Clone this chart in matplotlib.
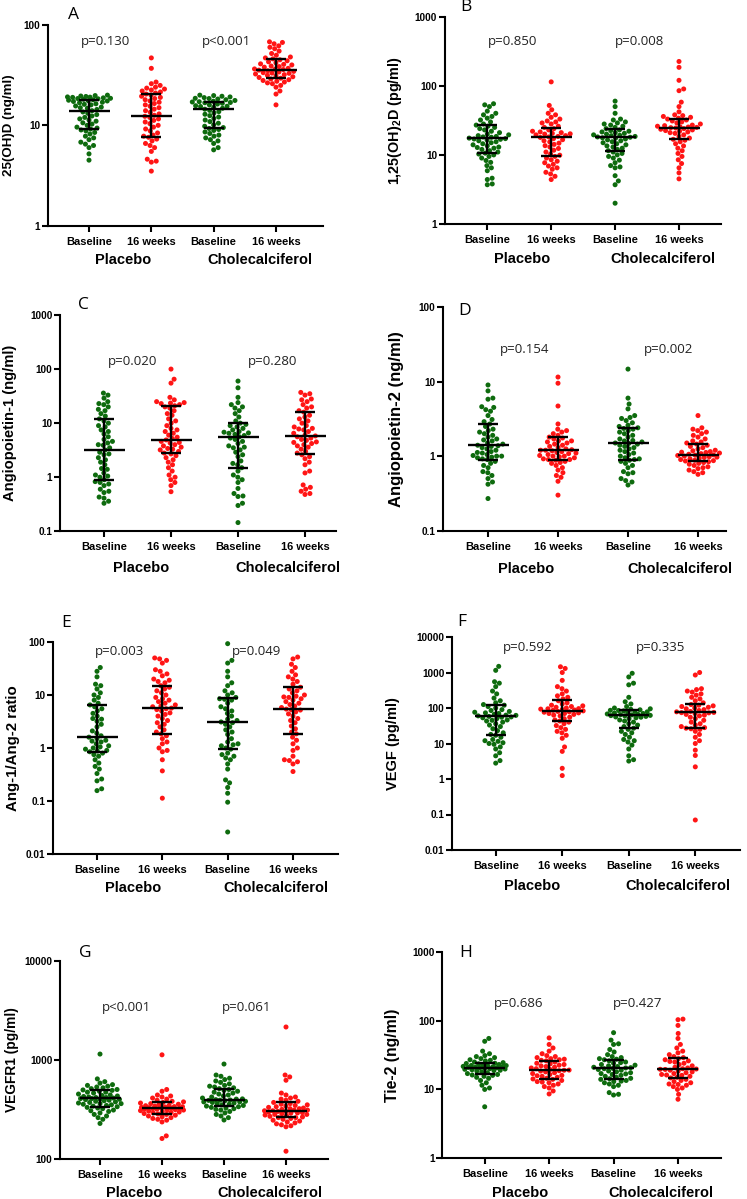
import numpy as np
import matplotlib
matplotlib.use('Agg')
import matplotlib.pyplot as plt
from matplotlib.ticker import FuncFormatter, NullLocator

plt.rcParams['font.family'] = ['Liberation Sans', 'DejaVu Sans']
plt.rcParams['mathtext.fontset'] = 'custom'
plt.rcParams['mathtext.bf'] = 'Liberation Sans:bold'
plt.rcParams['mathtext.rm'] = 'Liberation Sans:bold'

categories = ['Baseline', '16 weeks', 'Baseline', '16 weeks']
group_names = ['Placebo', 'Cholecalciferol']
GREEN = '#0e6b0e'
RED = '#ff1515'
colors = [GREEN, RED, GREEN, RED]

# ---------------- Panel A: 25(OH)D (ng/ml) ----------------
a_pla_base = [4.5, 5.2, 6.0, 6.3, 6.5, 6.8, 7.2, 7.5, 7.8, 8.2, 8.5, 8.8, 9.0, 9.2, 9.4, 9.6, 10.0, 10.3, 10.6,
              11.0, 11.3, 11.6, 12.0, 12.4, 12.8, 13.2, 13.6, 14.0, 14.4, 14.8, 15.2, 15.6, 16.0, 16.4, 16.8,
              17.0, 17.3, 17.6, 17.8, 18.0, 18.2, 18.4, 18.6, 18.8, 19.0, 19.2, 19.4, 19.6, 19.8, 20.0, 18.5,
              19.1, 17.5, 16.2, 15.0]
a_pla_16w = [3.5, 4.3, 4.4, 4.6, 5.5, 6.0, 6.3, 6.6, 7.0, 7.3, 7.6, 7.8, 8.0, 8.4, 8.8, 9.2, 9.6, 10.0, 10.4,
             10.8, 11.2, 11.6, 12.0, 12.3, 12.6, 13.0, 13.5, 14.0, 14.5, 15.0, 15.5, 16.0, 16.5, 17.0, 17.5,
             18.0, 18.5, 19.0, 19.5, 20.0, 20.5, 21.0, 21.5, 22.0, 22.5, 23.0, 23.5, 24.0, 25.0, 26.0, 27.0,
             37.0, 47.0]
a_cho_base = [5.7, 6.0, 6.6, 7.0, 7.2, 7.5, 7.8, 8.0, 8.3, 8.6, 8.9, 9.1, 9.3, 9.5, 9.8, 10.1, 10.5, 10.9, 11.3,
              11.7, 12.1, 12.5, 12.9, 13.3, 13.7, 14.1, 14.5, 14.8, 15.1, 15.4, 15.7, 16.0, 16.3, 16.6, 16.9,
              17.1, 17.4, 17.7, 18.0, 18.3, 18.6, 18.9, 19.2, 19.5, 19.8, 20.0, 17.2, 16.8, 18.5, 15.5]
a_cho_16w = [16, 20.5, 22, 24, 25, 26, 26.5, 27, 27.5, 28, 28.5, 29, 29.5, 30, 30.5, 31, 31.5, 32, 32.5, 33,
             33.5, 34, 34.5, 35, 35.5, 36, 36.5, 37, 38, 39, 40, 41, 42, 43, 44, 45, 46, 47, 48, 50, 52, 55,
             58, 60, 62, 65, 67, 68, 38.5, 33.2, 36.2, 40.5]
a_median = [14.0, 12.3, 14.5, 35.5]
a_q1 = [9.3, 7.7, 9.4, 29.4]
a_q3 = [17.9, 20.7, 16.9, 46.0]
a_pvalues = ['p=0.130', 'p<0.001']

# ---------------- Panel B: 1,25(OH)2D (pg/ml) ----------------
b_pla_base = [3.7, 3.8, 4.4, 4.6, 5.9, 6.5, 7.0, 7.8, 8.3, 9.0, 9.5, 10.0, 10.3, 10.6, 11.0, 11.5, 12.0, 12.5,
              13.0, 13.5, 14.0, 14.5, 15.0, 15.5, 16.0, 16.5, 17.0, 17.5, 18.0, 18.5, 19.0, 19.5, 20.0, 21.0,
              22.0, 23.0, 24.0, 25.0, 26.0, 27.0, 28.0, 30.0, 32.0, 34.0, 36.0, 38.0, 40.0, 43.0, 50.0, 53.0,
              55.0, 17.2, 18.2, 16.8, 12.8]
b_pla_16w = [4.4, 4.9, 5.3, 5.6, 6.2, 6.5, 6.9, 7.3, 7.7, 8.1, 8.5, 9.0, 9.5, 9.9, 10.3, 11.0, 11.7, 12.4, 13.0,
             13.6, 14.2, 14.8, 15.4, 16.0, 16.6, 17.2, 17.9, 18.5, 19.0, 19.5, 20.0, 20.5, 21.0, 21.5, 22.0,
             23.0, 24.0, 25.0, 26.0, 28.0, 29.0, 30.0, 31.0, 33.0, 35.0, 38.0, 40.0, 45.0, 52.0, 114.0, 18.2,
             20.2]
b_cho_base = [2.0, 3.7, 4.2, 5.0, 6.5, 6.7, 7.0, 7.7, 8.4, 9.0, 9.5, 10.0, 10.5, 11.0, 11.5, 12.0, 12.5, 13.0,
              13.5, 14.0, 14.5, 15.0, 15.5, 16.0, 16.5, 17.0, 17.5, 18.0, 18.5, 19.0, 19.5, 20.0, 20.5, 21.0,
              21.5, 22.0, 22.5, 23.0, 24.0, 25.0, 26.0, 27.0, 28.0, 29.0, 30.0, 32.0, 33.0, 40.0, 50.0, 60.0,
              18.2, 19.2, 17.7]
b_cho_16w = [4.5, 5.5, 6.5, 7.5, 8.5, 9.5, 10.5, 11.5, 12.5, 13.5, 14.5, 15.5, 16.3, 16.8, 17.5, 18.5, 19.5,
             20.5, 21.0, 21.5, 22.0, 22.5, 23.0, 23.5, 24.0, 24.5, 25.0, 25.5, 26.0, 26.5, 27.0, 28.0, 29.0,
             30.0, 31.0, 32.0, 33.0, 34.0, 35.0, 36.0, 37.0, 38.0, 42.0, 50.0, 58.0, 85.0, 90.0, 120.0, 185.0,
             225.0, 24.8, 25.3]
b_median = [17.7, 17.9, 18.3, 24.8]
b_q1 = [10.5, 9.6, 11.5, 16.8]
b_q3 = [26.8, 24.3, 23.9, 33.0]
b_pvalues = ['p=0.850', 'p=0.008']

# ---------------- Panel C: Angiopoietin-1 (ng/ml) ----------------
c_pla_base = [0.33, 0.36, 0.41, 0.43, 0.52, 0.55, 0.7, 0.75, 0.8, 0.83, 0.9, 1.0, 1.05, 1.1, 1.2, 1.4, 1.45, 1.7,
              1.9, 2.1, 2.3, 2.6, 2.9, 3.2, 3.5, 3.9, 4.3, 4.6, 5.0, 5.6, 6.3, 7.0, 7.5, 8.5, 9.0, 10.0, 11.0,
              12.0, 13.5, 15.0, 17.0, 18.0, 20.0, 22.0, 23.0, 25.0, 29.0, 33.0, 36.0, 0.6, 2.7, 4.0]
c_pla_16w = [0.54, 0.7, 0.8, 0.9, 1.0, 1.1, 1.3, 1.5, 1.7, 1.9, 2.1, 2.3, 2.5, 2.7, 2.8, 3.0, 3.2, 3.4, 3.6,
             3.8, 4.0, 4.3, 4.6, 4.9, 5.2, 5.5, 6.0, 6.5, 7.0, 7.5, 8.0, 9.0, 10.0, 11.0, 12.0, 14.0, 15.0,
             17.0, 19.0, 20.0, 21.0, 22.0, 23.0, 24.0, 25.0, 27.0, 30.0, 55.0, 65.0, 100.0, 3.3, 4.4, 23.5]
c_cho_base = [0.145, 0.3, 0.33, 0.44, 0.45, 0.5, 0.62, 0.8, 0.9, 1.0, 1.1, 1.3, 1.5, 1.7, 1.8, 2.0, 2.4, 2.6,
              2.9, 3.2, 3.5, 3.8, 4.2, 4.6, 5.0, 5.3, 5.6, 5.9, 6.2, 6.5, 6.8, 7.0, 7.5, 8.0, 8.5, 9.0, 9.5,
              10.0, 11.0, 13.0, 15.0, 17.0, 19.0, 20.0, 22.0, 24.0, 30.0, 45.0, 60.0, 6.6, 3.6]
c_cho_16w = [0.48, 0.5, 0.55, 0.6, 0.65, 0.72, 1.2, 1.3, 1.7, 1.9, 2.2, 2.4, 2.6, 2.8, 3.0, 3.3, 3.6, 3.8, 4.0,
             4.2, 4.5, 4.8, 5.0, 5.3, 5.6, 5.8, 6.0, 6.5, 7.0, 7.5, 8.0, 8.5, 9.0, 10.0, 11.0, 12.0, 13.0,
             14.0, 16.0, 17.0, 19.0, 20.0, 22.0, 25.0, 27.0, 28.0, 33.0, 35.0, 37.0, 4.4, 7.8]
c_median = [3.19, 4.9, 5.6, 5.8]
c_q1 = [0.89, 2.77, 1.5, 2.65]
c_q3 = [11.8, 21.0, 9.9, 16.3]
c_pvalues = ['p=0.020', 'p=0.280']

# ---------------- Panel D: Angiopoietin-2 (ng/ml) ----------------
d_pla_base = [0.27, 0.42, 0.45, 0.5, 0.55, 0.6, 0.62, 0.7, 0.75, 0.8, 0.85, 0.9, 0.92, 0.95, 1.0, 1.02, 1.05,
              1.1, 1.15, 1.2, 1.25, 1.3, 1.35, 1.4, 1.45, 1.5, 1.6, 1.7, 1.8, 1.9, 2.0, 2.1, 2.2, 2.3, 2.5, 2.7,
              2.9, 3.1, 3.5, 4.0, 4.2, 4.5, 4.6, 5.8, 6.0, 7.5, 9.0, 1.12, 1.38, 1.65, 1.0, 0.97]
d_pla_16w = [0.30, 0.46, 0.52, 0.55, 0.6, 0.65, 0.7, 0.75, 0.8, 0.82, 0.85, 0.88, 0.9, 0.92, 0.95, 0.98, 1.0,
             1.02, 1.05, 1.08, 1.1, 1.12, 1.15, 1.18, 1.2, 1.22, 1.25, 1.3, 1.35, 1.4, 1.45, 1.5, 1.55, 1.6,
             1.7, 1.8, 1.9, 2.0, 2.1, 2.2, 2.3, 2.7, 4.7, 9.5, 11.5, 1.2, 1.0, 0.9, 1.6, 1.75]
d_cho_base = [0.41, 0.45, 0.47, 0.5, 0.58, 0.6, 0.62, 0.7, 0.75, 0.8, 0.85, 0.88, 0.9, 0.95, 1.0, 1.05, 1.1,
              1.15, 1.2, 1.25, 1.3, 1.35, 1.4, 1.45, 1.5, 1.55, 1.6, 1.7, 1.8, 1.9, 2.0, 2.1, 2.2, 2.3, 2.4,
              2.5, 2.6, 2.8, 3.0, 3.2, 3.3, 3.5, 4.3, 5.0, 6.0, 14.7, 1.48, 1.62, 2.35, 0.92]
d_cho_16w = [0.57, 0.6, 0.62, 0.65, 0.68, 0.7, 0.72, 0.75, 0.78, 0.8, 0.82, 0.84, 0.86, 0.88, 0.9, 0.92, 0.94,
             0.96, 0.98, 1.0, 1.02, 1.04, 1.06, 1.08, 1.1, 1.12, 1.15, 1.18, 1.2, 1.25, 1.3, 1.35, 1.4, 1.45,
             1.5, 1.55, 1.6, 1.7, 1.8, 1.9, 2.0, 2.1, 2.2, 2.3, 2.4, 3.5, 1.03, 0.97, 0.87, 1.13]
d_median = [1.39, 1.21, 1.49, 1.04]
d_q1 = [0.89, 0.89, 0.89, 0.85]
d_q3 = [2.68, 1.83, 2.42, 1.46]
d_pvalues = ['p=0.154', 'p=0.002']

# ---------------- Panel E: Ang-1/Ang-2 ratio ----------------
e_pla_base = [0.157, 0.17, 0.24, 0.26, 0.33, 0.4, 0.45, 0.52, 0.6, 0.7, 0.8, 0.85, 0.9, 0.95, 1.0, 1.1, 1.2,
              1.3, 1.4, 1.5, 1.6, 1.7, 1.9, 2.1, 2.5, 2.8, 3.2, 3.6, 4.0, 4.5, 5.0, 5.5, 6.0, 6.5, 7.0, 8.0, 9.0,
              10.0, 11.0, 13.0, 15.0, 16.0, 22.0, 28.0, 33.0, 1.35, 0.88, 1.05, 0.75, 3.5]
e_pla_16w = [0.113, 0.37, 0.6, 0.85, 0.9, 1.0, 1.2, 1.3, 1.5, 1.7, 1.85, 2.0, 2.2, 2.5, 2.8, 3.0, 3.3, 3.6, 4.0,
             4.3, 4.6, 5.0, 5.3, 5.66, 6.0, 6.5, 7.0, 7.5, 8.0, 8.5, 9.0, 10.0, 11.0, 12.0, 13.0, 14.0, 15.0,
             17.0, 18.0, 19.0, 20.0, 23.0, 25.0, 28.0, 30.0, 40.0, 45.0, 48.0, 50.0, 5.5, 6.2]
e_cho_base = [0.026, 0.095, 0.14, 0.18, 0.22, 0.25, 0.4, 0.5, 0.6, 0.65, 0.7, 0.8, 0.95, 1.0, 1.1, 1.2, 1.3,
              1.5, 1.8, 2.0, 2.2, 2.5, 2.8, 3.1, 3.3, 3.5, 4.0, 4.5, 5.0, 5.5, 6.0, 7.0, 8.0, 8.5, 9.0, 10.0,
              11.0, 12.0, 15.0, 17.0, 22.0, 28.0, 40.0, 45.0, 93.0, 3.0, 1.15, 0.75, 8.3]
e_cho_16w = [0.36, 0.5, 0.55, 0.58, 0.6, 0.7, 0.9, 1.0, 1.2, 1.4, 1.6, 1.85, 2.0, 2.3, 2.6, 3.0, 3.3, 3.6, 4.0,
             4.4, 4.8, 5.2, 5.42, 5.8, 6.2, 6.6, 7.0, 7.5, 8.0, 8.5, 9.0, 9.5, 10.0, 11.0, 12.0, 13.0, 14.0,
             16.0, 18.0, 20.0, 22.0, 24.0, 28.0, 33.0, 38.0, 48.0, 52.0, 5.3, 9.2]
e_median = [1.58, 5.66, 3.08, 5.42]
e_q1 = [0.83, 1.85, 0.95, 1.85]
e_q3 = [6.35, 15.0, 8.74, 14.1]
e_pvalues = ['p=0.003', 'p=0.049']

# ---------------- Panel F: VEGF (pg/ml) ----------------
f_pla_base = [2.8, 3.3, 4.5, 5.5, 7.0, 8.0, 9.5, 10.0, 10.5, 11.5, 13.0, 15.0, 17.0, 18.0, 20.0, 23.0, 26.0,
              30.0, 33.0, 36.0, 40.0, 43.0, 46.0, 50.0, 53.0, 56.0, 58.0, 60.0, 63.0, 66.0, 70.0, 73.0, 76.0,
              80.0, 85.0, 90.0, 100.0, 110.0, 120.0, 125.0, 140.0, 160.0, 190.0, 250.0, 300.0, 400.0, 500.0,
              550.0, 1150.0, 1490.0, 55.0, 62.0, 45.0, 12.0]
f_pla_16w = [1.25, 2.0, 6.0, 8.0, 14.0, 17.0, 20.0, 22.0, 25.0, 28.0, 32.0, 36.0, 40.0, 43.0, 46.0, 50.0, 55.0,
             60.0, 63.0, 66.0, 70.0, 73.0, 76.0, 80.0, 83.0, 86.0, 90.0, 93.0, 96.0, 100.0, 105.0, 110.0,
             115.0, 120.0, 130.0, 140.0, 160.0, 180.0, 200.0, 220.0, 250.0, 300.0, 350.0, 400.0, 600.0,
             1000.0, 1300.0, 1450.0, 78.0, 88.0, 70.0, 95.0]
f_cho_base = [3.2, 3.5, 4.5, 7.0, 9.0, 11.0, 12.0, 13.0, 15.0, 18.0, 20.0, 22.0, 25.0, 27.0, 30.0, 33.0, 36.0,
              40.0, 43.0, 46.0, 50.0, 53.0, 56.0, 58.0, 60.0, 62.0, 64.0, 66.0, 68.0, 70.0, 72.0, 75.0, 78.0,
              80.0, 83.0, 86.0, 89.0, 92.0, 95.0, 100.0, 110.0, 130.0, 150.0, 200.0, 450.0, 500.0, 750.0,
              950.0, 61.0, 65.0, 55.0, 85.0]
f_cho_16w = [0.07, 2.2, 4.6, 6.5, 10.0, 12.0, 15.0, 18.0, 22.0, 25.0, 27.0, 28.0, 30.0, 33.0, 36.0, 40.0, 45.0,
             50.0, 55.0, 60.0, 63.0, 66.0, 70.0, 73.0, 75.0, 78.0, 80.0, 85.0, 90.0, 95.0, 100.0, 105.0,
             110.0, 120.0, 125.0, 140.0, 160.0, 180.0, 200.0, 230.0, 250.0, 280.0, 300.0, 330.0, 350.0,
             850.0, 1000.0, 74.0, 26.0, 115.0]
f_median = [57.7, 83.4, 61.5, 74.8]
f_q1 = [17.5, 43.5, 27.0, 28.2]
f_q3 = [123.0, 163.0, 89.0, 126.0]
f_pvalues = ['p=0.592', 'p=0.335']

# ---------------- Panel G: VEGFR1 (pg/ml) ----------------
g_pla_base = [227, 250, 260, 270, 280, 290, 300, 305, 310, 320, 325, 330, 335, 340, 345, 350, 355, 360, 365, 370,
              375, 380, 385, 390, 395, 400, 405, 410, 415, 420, 425, 430, 435, 440, 450, 460, 470, 480, 490,
              495, 500, 510, 520, 530, 540, 550, 560, 580, 600, 640, 1140, 405, 415, 398, 360, 470]
g_pla_16w = [160, 170, 235, 245, 250, 255, 260, 265, 270, 275, 280, 283, 286, 290, 293, 296, 300, 303, 306, 310,
             313, 316, 320, 323, 326, 330, 333, 336, 340, 343, 346, 350, 355, 360, 365, 370, 375, 380, 390,
             400, 410, 420, 430, 440, 480, 500, 1120, 322, 318, 328, 310, 335]
g_cho_base = [246, 260, 270, 280, 290, 300, 310, 315, 320, 325, 330, 335, 340, 345, 350, 355, 360, 365, 370,
              375, 380, 385, 390, 395, 400, 410, 420, 430, 440, 450, 460, 470, 480, 490, 500, 510, 520, 530,
              540, 550, 570, 590, 610, 630, 650, 680, 700, 904, 392, 388, 402, 375]
g_cho_16w = [119, 210, 215, 220, 225, 230, 235, 240, 245, 250, 255, 260, 264, 268, 272, 276, 280, 284, 288, 292,
             296, 300, 305, 310, 315, 320, 325, 330, 335, 340, 345, 350, 355, 360, 370, 380, 390, 400, 410,
             420, 440, 460, 620, 670, 700, 2140, 305, 300, 310, 290, 280, 320, 260]
g_median = [407.0, 322.0, 391.0, 305.0]
g_q1 = [335.0, 282.0, 340.0, 264.0]
g_q3 = [494.0, 371.0, 509.0, 373.0]
g_pvalues = ['p<0.001', 'p=0.061']

# ---------------- Panel H: Tie-2 (ng/ml) ----------------
h_pla_base = [5.6, 10.0, 10.5, 11.5, 12.5, 13.5, 14.5, 15.0, 15.5, 16.0, 16.5, 17.0, 17.5, 18.0, 18.5, 19.0,
              19.3, 19.6, 20.0, 20.3, 20.6, 21.0, 21.3, 21.6, 22.0, 22.3, 22.6, 23.0, 23.5, 24.0, 24.5, 25.0,
              26.0, 27.0, 28.0, 29.0, 30.0, 31.0, 33.0, 36.0, 50.0, 55.0, 20.7, 20.9, 21.2, 19.8, 22.2, 18.8,
              16.2, 23.8, 26.5]
h_pla_16w = [8.6, 9.5, 10.5, 11.0, 11.5, 12.0, 12.5, 13.0, 13.5, 14.0, 14.2, 14.5, 15.0, 15.5, 16.0, 16.5,
             17.0, 17.5, 18.0, 18.5, 19.0, 19.5, 20.0, 20.5, 21.0, 21.5, 22.0, 22.5, 23.0, 24.0, 25.0, 26.0,
             26.5, 27.0, 28.0, 29.0, 30.0, 31.0, 33.0, 36.0, 40.0, 45.0, 56.0, 19.1, 18.7, 12.8, 15.8, 23.5,
             27.5]
h_cho_base = [8.3, 8.5, 9.0, 11.0, 11.5, 12.0, 12.5, 13.0, 13.5, 14.0, 14.5, 15.0, 15.5, 16.0, 16.5, 17.0,
              17.5, 18.0, 18.5, 19.0, 19.5, 20.0, 20.5, 21.0, 21.5, 22.0, 22.5, 23.0, 24.0, 25.0, 26.0, 27.0,
              28.0, 29.0, 30.0, 32.0, 35.0, 38.0, 45.0, 46.0, 52.0, 66.7, 20.7, 20.2, 14.3, 16.8, 24.5, 27.5,
              13.2]
h_cho_16w = [7.2, 8.5, 10.0, 10.5, 11.0, 11.5, 12.0, 12.5, 13.0, 13.5, 14.0, 14.7, 15.0, 15.5, 16.0, 16.5,
             17.0, 17.5, 18.0, 18.5, 19.0, 19.5, 19.8, 20.0, 20.5, 21.0, 22.0, 23.0, 24.0, 25.0, 26.0, 27.0,
             28.0, 29.0, 30.0, 32.0, 34.0, 36.0, 40.0, 45.0, 55.0, 65.0, 85.0, 103.0, 105.0, 19.6, 16.2, 25.5,
             11.8]
h_median = [20.7, 19.1, 20.7, 19.8]
h_q1 = [16.8, 14.2, 14.0, 14.7]
h_q3 = [24.5, 26.2, 26.8, 28.6]
h_pvalues = ['p=0.686', 'p=0.427']

panel_letters = ['A', 'B', 'C', 'D', 'E', 'F', 'G', 'H']
y_labels = ['25(OH)D (ng/ml)', r'1,25(OH)$_{\mathbf{2}}$D (pg/ml)', 'Angiopoietin-1 (ng/ml)',
            'Angiopoietin-2 (ng/ml)', 'Ang-1/Ang-2 ratio', 'VEGF (pg/ml)', 'VEGFR1 (pg/ml)', 'Tie-2 (ng/ml)']
y_limits = [(1, 100), (1, 1000), (0.1, 1000), (0.1, 100), (0.01, 100), (0.01, 10000), (100, 10000), (1, 1000)]

panel_data = [
    ([a_pla_base, a_pla_16w, a_cho_base, a_cho_16w], a_median, a_q1, a_q3, a_pvalues),
    ([b_pla_base, b_pla_16w, b_cho_base, b_cho_16w], b_median, b_q1, b_q3, b_pvalues),
    ([c_pla_base, c_pla_16w, c_cho_base, c_cho_16w], c_median, c_q1, c_q3, c_pvalues),
    ([d_pla_base, d_pla_16w, d_cho_base, d_cho_16w], d_median, d_q1, d_q3, d_pvalues),
    ([e_pla_base, e_pla_16w, e_cho_base, e_cho_16w], e_median, e_q1, e_q3, e_pvalues),
    ([f_pla_base, f_pla_16w, f_cho_base, f_cho_16w], f_median, f_q1, f_q3, f_pvalues),
    ([g_pla_base, g_pla_16w, g_cho_base, g_cho_16w], g_median, g_q1, g_q3, g_pvalues),
    ([h_pla_base, h_pla_16w, h_cho_base, h_cho_16w], h_median, h_q1, h_q3, h_pvalues),
]

# ---------------- layout (pixels in the 747x1199 image) ----------------
W, H = 747, 1199
layout = [
    dict(box=(47.7, 25, 323, 225.7), c0=89, c3=276, letter=(74, 15), ylab_x=9, ylab_fs=9.6,
         p=[(106, 42), (226, 42)], grp_off=34),
    dict(box=(444.7, 16.7, 721, 224), c0=487.3, c3=679, letter=(466, 7), ylab_x=395, ylab_fs=10.4,
         p=[(512.7, 41), (640, 41)], grp_off=35),
    dict(box=(60, 315, 336, 531.3), c0=104, c3=305, letter=(83, 305), ylab_x=10, ylab_fs=10.6,
         p=[(133, 361), (273, 361)], grp_off=37),
    dict(box=(443, 307, 726, 530.7), c0=488, c3=698, letter=(465, 311), ylab_x=396, ylab_fs=12,
         p=[(525, 349), (669, 349)], grp_off=38),
    dict(box=(53, 642, 338, 854), c0=97, c3=293, letter=(66, 623), ylab_x=13, ylab_fs=10.8,
         p=[(120, 651), (257, 651)], grp_off=34),
    dict(box=(452, 637, 740, 850), c0=495.7, c3=695.3, letter=(462, 622), ylab_x=393, ylab_fs=10.5,
         p=[(528, 647), (661, 647)], grp_off=36),
    dict(box=(60, 960.7, 328, 1158.7), c0=100, c3=286, letter=(85, 953), ylab_x=12, ylab_fs=9.9,
         p=[(126, 1007), (247, 1007)], grp_off=34),
    dict(box=(442.3, 951.7, 720.7, 1158.3), c0=484.7, c3=678, letter=(466, 953), ylab_x=393, ylab_fs=11.3,
         p=[(519, 1003), (638, 1003)], grp_off=35),
]

DOT_D = 5.0        # px between dot centres in swarm
MAX_HALF = 21.5    # px max half width of a swarm
MED_HALF = 20.5    # px half width of median line
CAP_HALF = 10.0    # px half width of IQR caps


def swarm_offsets(ypx, d, maxw):
    order = np.argsort(ypx)
    px, py = [], []
    offs = np.zeros(len(ypx))
    grid = np.linspace(-maxw, maxw, 43)
    for i in order:
        y = ypx[i]
        cands = [0.0]
        for xj, yj in zip(px, py):
            dy = abs(y - yj)
            if dy < d:
                dx = np.sqrt(d * d - dy * dy)
                cands += [xj + dx, xj - dx]
        cands = [c for c in cands if abs(c) <= maxw]
        cands = sorted(cands, key=lambda c: (abs(c), -c))
        chosen = None
        for c in cands:
            ok = True
            for xj, yj in zip(px, py):
                if (c - xj) ** 2 + (y - yj) ** 2 < d * d - 1e-6:
                    ok = False
                    break
            if ok:
                chosen = c
                break
        if chosen is None:
            pxa = np.array(px)
            pya = np.array(py)
            best, bestd = 0.0, -1
            for g in grid:
                md = np.min((pxa - g) ** 2 + (pya - y) ** 2)
                if md > bestd + 1e-9:
                    best, bestd = g, md
            chosen = best
        offs[i] = chosen
        px.append(chosen)
        py.append(y)
    return offs


def fmt(v, pos):
    return '{:g}'.format(v)


fig = plt.figure(figsize=(W / 100, H / 100), dpi=100)
fig.patch.set_facecolor('white')

for k in range(8):
    lay = layout[k]
    l, t, r, b = lay['box']
    ax = fig.add_axes([l / W, 1 - b / H, (r - l) / W, (b - t) / H])
    s_px = (lay['c3'] - lay['c0']) / 3.0
    ax.set_xlim((l - lay['c0']) / s_px, (r - lay['c0']) / s_px)
    ax.set_yscale('log')
    lo, hi = y_limits[k]
    ax.set_ylim(lo, hi)
    decs = [10.0 ** e for e in range(int(round(np.log10(lo))), int(round(np.log10(hi))) + 1)]
    ax.set_yticks(decs)
    ax.yaxis.set_minor_locator(NullLocator())
    ax.yaxis.set_major_formatter(FuncFormatter(fmt))
    ax.set_xticks(range(4))
    ax.set_xticklabels(categories, fontsize=8, fontweight='bold')
    for lab in ax.get_yticklabels():
        lab.set_fontweight('bold')
        lab.set_fontsize(7.2)
    ax.tick_params(axis='y', length=4, width=1.5, pad=1.5, labelsize=7.2)
    ax.tick_params(axis='x', length=4, width=1.5, pad=4, labelsize=8)
    for side in ['top', 'right']:
        ax.spines[side].set_visible(False)
    for side in ['left', 'bottom']:
        ax.spines[side].set_linewidth(1.5)
    ax.patch.set_alpha(0)

    groups_vals, med, q1, q3, pv = panel_data[k]
    for i, vals in enumerate(groups_vals):
        vals = np.asarray(vals, dtype=float)
        ypx = ax.transData.transform(np.column_stack([np.zeros_like(vals), vals]))[:, 1]
        offs = swarm_offsets(ypx, DOT_D, MAX_HALF)
        ax.scatter(i + offs / s_px, vals, s=13, color=colors[i], edgecolors='none', zorder=2,
                   clip_on=False)
        mh = MED_HALF / s_px
        ch = CAP_HALF / s_px
        ax.hlines(med[i], i - mh, i + mh, color='black', lw=1.7, zorder=3)
        ax.vlines(i, q1[i], q3[i], color='black', lw=1.7, zorder=3)
        ax.hlines([q1[i], q3[i]], i - ch, i + ch, color='black', lw=1.7, zorder=3)

    for gi, gx in enumerate([0.55, 2.74]):
        ax.annotate(group_names[gi], xy=(gx, 0), xycoords=('data', 'axes fraction'),
                    xytext=(0, -lay['grp_off'] * 0.72), textcoords='offset points',
                    ha='center', va='center', fontsize=10.5, fontweight='bold')

    fig.text(lay['ylab_x'] / W, 1 - ((t + b) / 2) / H, y_labels[k], rotation=90, ha='center', va='center',
             fontsize=lay['ylab_fs'], fontweight='bold')
    fig.text(lay['letter'][0] / W, 1 - lay['letter'][1] / H, panel_letters[k], ha='center', va='center',
             fontsize=12.5, family=['Open Sans', 'DejaVu Sans'])
    for (px_, py_), txt in zip(lay['p'], pv):
        fig.text(px_ / W, 1 - py_ / H, txt, ha='center', va='center', fontsize=9.5,
                 family=['Open Sans', 'DejaVu Sans'], color='#222222')

fig.savefig('out.png', dpi=100, facecolor='white')
